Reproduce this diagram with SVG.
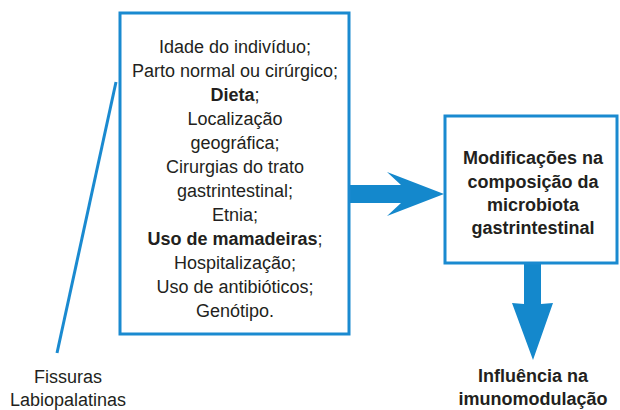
<svg xmlns="http://www.w3.org/2000/svg" width="620" height="410" viewBox="0 0 620 410">
<style>
text{font-family:"Liberation Sans",Arial,sans-serif;font-size:18px;fill:#231f20;text-anchor:middle}
.b{font-weight:bold}
.box{fill:#fff;stroke:#1a8ad0;stroke-width:3}
.arrow{fill:#1488cc}
.lead{stroke:#1a8ad0;stroke-width:3;fill:none}
</style>
<rect width="620" height="410" fill="#fff"/>
<g id="connectors">
<line class="lead" x1="116" y1="82" x2="57" y2="353"/>
<path class="arrow" d="M349,185 H401 L387,172 L444,194 L387,216 L401,203 H349 Z"/>
<path class="arrow" d="M524,263 V304 L512,303 L533,360 L553,303 L541,304 V263 Z"/>
</g>
<g id="factors">
<rect class="box" x="120" y="13" width="229" height="321"/>
<text x="235" y="53">Idade do indivíduo;</text>
<text x="235" y="77">Parto normal ou cirúrgico;</text>
<text x="235" y="101"><tspan class="b">Dieta</tspan>;</text>
<text x="235" y="125">Localização</text>
<text x="235" y="149">geográfica;</text>
<text x="235" y="173">Cirurgias do trato</text>
<text x="235" y="197">gastrintestinal;</text>
<text x="235" y="221">Etnia;</text>
<text x="235" y="245"><tspan class="b">Uso de mamadeiras</tspan>;</text>
<text x="235" y="269">Hospitalização;</text>
<text x="235" y="293">Uso de antibióticos;</text>
<text x="235" y="317">Genótipo.</text>
</g>
<g id="fissuras">
<text x="68" y="383">Fissuras</text>
<text x="68" y="406">Labiopalatinas</text>
</g>
<g id="microbiota">
<rect class="box" x="445" y="116" width="172" height="147"/>
<text class="b" x="533" y="164">Modificações na</text>
<text class="b" x="533" y="188">composição da</text>
<text class="b" x="533" y="211">microbiota</text>
<text class="b" x="533" y="234">gastrintestinal</text>
</g>
<g id="influencia">
<text class="b" x="533" y="382">Influência na</text>
<text class="b" x="533" y="405">imunomodulação</text>
</g>
</svg>
